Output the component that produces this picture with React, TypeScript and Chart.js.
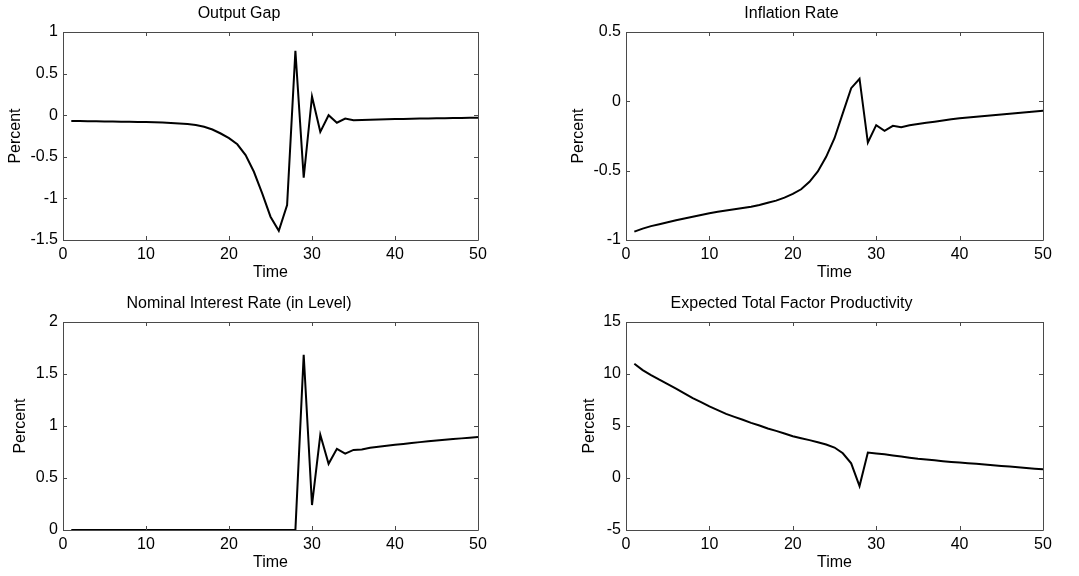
import React, { useEffect, useRef } from "react";
import { Chart, registerables } from "chart.js";

Chart.register(...registerables);

const time = Array.from({ length: 50 }, (_, i) => i + 1);

const outputGap = [
  -0.07, -0.07, -0.072, -0.073, -0.075, -0.076, -0.078, -0.079, -0.081, -0.083,
  -0.086, -0.089, -0.095, -0.1, -0.107, -0.118, -0.138, -0.172, -0.22, -0.275,
  -0.35, -0.48, -0.68, -0.94, -1.22, -1.39, -1.08, 0.775, -0.75, 0.225,
  -0.2, 0.0, -0.09, -0.04, -0.06, -0.058, -0.055, -0.052, -0.05, -0.047,
  -0.045, -0.043, -0.041, -0.04, -0.038, -0.036, -0.035, -0.033, -0.032, -0.03,
];

const inflationRate = [
  -0.94, -0.918, -0.9, -0.886, -0.872, -0.858, -0.845, -0.832, -0.819, -0.807,
  -0.797, -0.788, -0.779, -0.77, -0.76, -0.747, -0.731, -0.716, -0.694, -0.668,
  -0.634, -0.58, -0.506, -0.4, -0.266, -0.085, 0.095, 0.163, -0.297, -0.172,
  -0.213, -0.177, -0.186, -0.172, -0.163, -0.155, -0.147, -0.139, -0.13, -0.122,
  -0.117, -0.111, -0.106, -0.1, -0.095, -0.09, -0.084, -0.079, -0.073, -0.068,
];

const nominalRate = [
  0, 0, 0, 0, 0, 0, 0, 0, 0, 0,
  0, 0, 0, 0, 0, 0, 0, 0, 0, 0,
  0, 0, 0, 0, 0, 0, 0, 0, 1.685, 0.24,
  0.915, 0.636, 0.78, 0.735, 0.77, 0.774, 0.79, 0.8, 0.81, 0.82,
  0.828, 0.836, 0.845, 0.853, 0.86, 0.867, 0.874, 0.881, 0.888, 0.895,
];

const expectedTfp = [
  10.99, 10.38, 9.9, 9.45, 9.03, 8.6, 8.13, 7.68, 7.3, 6.88,
  6.53, 6.17, 5.88, 5.6, 5.3, 5.05, 4.76, 4.53, 4.28, 4.02,
  3.83, 3.64, 3.44, 3.22, 2.93, 2.38, 1.41, -0.77, 2.45, 2.36,
  2.28, 2.17, 2.06, 1.95, 1.85, 1.77, 1.7, 1.62, 1.55, 1.48,
  1.42, 1.36, 1.29, 1.23, 1.16, 1.1, 1.03, 0.97, 0.9, 0.83,
];

const xTicks = [0, 10, 20, 30, 40, 50];
const outputGapTicks = [-1.5, -1, -0.5, 0, 0.5, 1];
const inflationTicks = [-1, -0.5, 0, 0.5];
const nominalTicks = [0, 0.5, 1, 1.5, 2];
const tfpTicks = [-5, 0, 5, 10, 15];

const titles = [
  "Output Gap",
  "Inflation Rate",
  "Nominal Interest Rate (in Level)",
  "Expected Total Factor Productivity",
];

const FONT = "'Liberation Sans', Arial, sans-serif";
const FS = 16;

type PanelSpec = {
  title: string;
  values: number[];
  yTicks: number[];
  left: number;
  top: number;
  width: number;
  height: number;
  plotLeft: number;
  plotRight: number;
  plotBottom: number;
  yTitleOffset: number;
  xTitleOffset: number;
};

const panels: PanelSpec[] = [
  { title: titles[0], values: outputGap, yTicks: outputGapTicks, left: 0, top: 0, width: 540, height: 290, plotLeft: 63, plotRight: 478, plotBottom: 240, yTitleOffset: 5.9, xTitleOffset: 7.7 },
  { title: titles[1], values: inflationRate, yTicks: inflationTicks, left: 540, top: 0, width: 539, height: 290, plotLeft: 86, plotRight: 503, plotBottom: 240, yTitleOffset: 29.4, xTitleOffset: 7.7 },
  { title: titles[2], values: nominalRate, yTicks: nominalTicks, left: 0, top: 290, width: 540, height: 286, plotLeft: 63, plotRight: 478, plotBottom: 240, yTitleOffset: 11.4, xTitleOffset: 3.7 },
  { title: titles[3], values: expectedTfp, yTicks: tfpTicks, left: 540, top: 290, width: 539, height: 286, plotLeft: 86, plotRight: 503, plotBottom: 240, yTitleOffset: 39.9, xTitleOffset: 3.7 },
];

const framePlugin = {
  id: "matlabFrame",
  afterDatasetsDraw(chart: any) {
    const { ctx, chartArea: a, scales } = chart;
    const tl = 4;
    ctx.save();
    ctx.strokeStyle = "#4a4a4a";
    ctx.lineWidth = 1;
    ctx.beginPath();
    ctx.rect(Math.round(a.left) + 0.5, Math.round(a.top) + 0.5, Math.round(a.right - a.left), Math.round(a.bottom - a.top));
    for (const t of scales.x.ticks) {
      const px = Math.round(scales.x.getPixelForValue(t.value)) + 0.5;
      ctx.moveTo(px, a.bottom);
      ctx.lineTo(px, a.bottom - tl);
      ctx.moveTo(px, a.top);
      ctx.lineTo(px, a.top + tl);
    }
    for (const t of scales.y.ticks) {
      const py = Math.round(scales.y.getPixelForValue(t.value)) + 0.5;
      ctx.moveTo(a.left, py);
      ctx.lineTo(a.left + tl, py);
      ctx.moveTo(a.right, py);
      ctx.lineTo(a.right - tl, py);
    }
    ctx.stroke();
    ctx.restore();
  },
};

function fmt(v: number) {
  return String(Math.round(v * 10) / 10);
}

function Panel({ spec }: { spec: PanelSpec }) {
  const ref = useRef<HTMLCanvasElement | null>(null);
  useEffect(() => {
    if (!ref.current) return;
    const yT = spec.yTicks;
    const chart = new Chart(ref.current, {
      type: "line",
      data: {
        datasets: [
          {
            data: time.map((t, i) => ({ x: t, y: spec.values[i] })),
            borderColor: "#000000",
            borderWidth: 2,
            pointRadius: 0,
            tension: 0,
            fill: false,
          },
        ],
      },
      options: {
        responsive: false,
        animation: false,
        devicePixelRatio: 1,
        layout: { padding: { left: 0, right: spec.width - spec.plotRight, top: 0, bottom: 0 } },
        plugins: {
          legend: { display: false },
          tooltip: { enabled: false },
          title: {
            display: true,
            text: spec.title,
            color: "#000",
            font: { family: FONT, size: FS, weight: "normal" },
            padding: { top: 4, bottom: 8.8 },
          },
        },
        scales: {
          x: {
            type: "linear",
            min: 0,
            max: 50,
            grid: { display: false, drawTicks: false },
            border: { display: false },
            afterBuildTicks: (s: any) => {
              s.ticks = xTicks.map((v) => ({ value: v }));
            },
            afterFit: (s: any) => {
              s.height = spec.height - spec.plotBottom;
            },
            ticks: {
              color: "#000",
              font: { family: FONT, size: FS },
              padding: 5,
              maxRotation: 0,
              autoSkip: false,
              callback: (v: any) => fmt(Number(v)),
            },
            title: {
              display: true,
              text: "Time",
              color: "#000",
              font: { family: FONT, size: FS },
              padding: { top: 0, bottom: spec.xTitleOffset },
            },
          },
          y: {
            type: "linear",
            min: yT[0],
            max: yT[yT.length - 1],
            grid: { display: false, drawTicks: false },
            border: { display: false },
            afterBuildTicks: (s: any) => {
              s.ticks = yT.map((v) => ({ value: v }));
            },
            afterFit: (s: any) => {
              s.width = spec.plotLeft;
            },
            ticks: {
              color: "#000",
              font: { family: FONT, size: FS },
              padding: 5,
              autoSkip: false,
              callback: (v: any) => fmt(Number(v)),
            },
            title: {
              display: true,
              text: "Percent",
              color: "#000",
              font: { family: FONT, size: FS },
              padding: { top: spec.yTitleOffset, bottom: 0 },
            },
          },
        },
      },
      plugins: [framePlugin],
    } as any);
    return () => chart.destroy();
  }, [spec]);
  return (
    <canvas
      ref={ref}
      width={spec.width}
      height={spec.height}
      style={{ position: "absolute", left: spec.left, top: spec.top, width: spec.width, height: spec.height, display: "block" }}
    />
  );
}

export default function App() {
  return (
    <div style={{ position: "fixed", left: 0, top: 0, width: 1079, height: 576, background: "#fff", overflow: "hidden" }}>
      {panels.map((p) => (
        <Panel key={p.title} spec={p} />
      ))}
    </div>
  );
}
